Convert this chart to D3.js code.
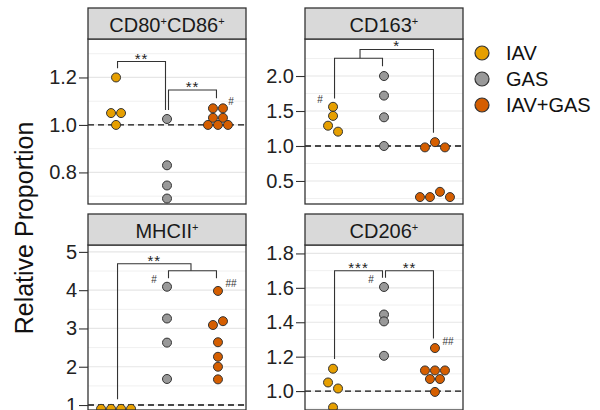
<!DOCTYPE html>
<html>
<head>
<meta charset="utf-8">
<script src="https://cdn.jsdelivr.net/npm/d3@7"></script>
<style>
  body { margin: 0; background: #fff; }
  svg { font-family: "Liberation Sans", Arial, sans-serif; }
</style>
</head>
<body>
<div id="chart"></div>
<script>
// groups shown in every panel
const groups = ["IAV", "GAS", "IAV+GAS"];
const groupColors = ["#E69F00", "#999999", "#D55E00"];

// strip titles, every marker gets a superscript +
const panelMarkers = [["CD80", "CD86"], ["CD163"], ["MHCII"], ["CD206"]];

// relative proportions
const cd80IAV = [1.20, 1.05, 1.05, 1.00];
const cd80GAS = [1.025, 0.83, 0.745, 0.69];
const cd80Combo = [1.07, 1.07, 1.03, 1.03, 1.0, 1.0, 1.0];

const cd163IAV = [1.56, 1.43, 1.29, 1.205];
const cd163GAS = [2.0, 1.72, 1.41, 1.0];
const cd163Combo = [0.98, 1.055, 0.98, 0.27, 0.27, 0.345, 0.27];

const mhcIAV = [0.9, 0.9, 0.9, 0.9];
const mhcGAS = [4.09, 3.26, 2.63, 1.68];
const mhcCombo = [3.98, 3.09, 3.19, 2.64, 2.26, 2.0, 1.67];

const cd206IAV = [1.13, 1.05, 1.015, 0.905];
const cd206GAS = [1.605, 1.445, 1.405, 1.205];
const cd206Combo = [1.25, 1.12, 1.12, 1.12, 1.07, 1.07, 0.995];

const panelValues = [
    [cd80IAV, cd80GAS, cd80Combo],
    [cd163IAV, cd163GAS, cd163Combo],
    [mhcIAV, mhcGAS, mhcCombo],
    [cd206IAV, cd206GAS, cd206Combo]
];

// y range and tick labels of each panel
const panelDomains = [[0.667, 1.362], [0.171, 2.529], [0.87, 5.18], [0.89, 1.849]];
const panelTicks = [[0.8, 1.0, 1.2], [0.5, 1.0, 1.5, 2.0], [1, 2, 3, 4, 5], [1.0, 1.2, 1.4, 1.6, 1.8]];
const tickFormats = [".1f", ".1f", "d", ".1f"];

// significance brackets (heights in data units)
const cd80Brackets = [
    {from: ["IAV"], to: ["GAS"], top: 1.267, left: 1.239, right: 1.063, label: "**"},
    {from: ["GAS"], to: ["IAV+GAS"], top: 1.147, left: 1.063, right: 1.112, label: "**"}
];
const cd163Brackets = [
    {from: ["IAV"], to: ["GAS"], top: 2.253, left: 1.68, right: 2.14, label: ""},
    {from: ["IAV", "GAS"], to: ["IAV+GAS"], top: 2.38, left: 2.253, right: 1.19, label: "*"}
];
const mhcBrackets = [
    {from: ["GAS"], to: ["IAV+GAS"], top: 4.507, left: 4.31, right: 4.31, label: ""},
    {from: ["IAV"], to: ["GAS", "IAV+GAS"], top: 4.69, left: 1.15, right: 4.507, label: "**"}
];
const cd206Brackets = [
    {from: ["IAV"], to: ["GAS"], top: 1.699, left: 1.186, right: 1.659, label: "***"},
    {from: ["GAS"], to: ["IAV+GAS"], top: 1.699, left: 1.659, right: 1.306, label: "**"}
];
const panelBrackets = [cd80Brackets, cd163Brackets, mhcBrackets, cd206Brackets];

// # marks next to the top point of a group
const panelHashes = [
    [{group: "IAV+GAS", label: "#", side: 1}],
    [{group: "IAV", label: "#", side: -1}],
    [{group: "GAS", label: "#", side: -1}, {group: "IAV+GAS", label: "##", side: 1}],
    [{group: "GAS", label: "#", side: -1}, {group: "IAV+GAS", label: "##", side: 1}]
];

const width = 600;
const height = 410;

// panel layout
const colLeft = [88, 305];
const rowTop = [8, 214];
const panelW = 158;
const stripH = 31;
const bodyH = 165;
const r = 4.5;

var svg = d3.select("#chart")
    .append("svg")
    .attr("width", width)
    .attr("height", height);

// spread points with (almost) equal values side by side
function swarm(values, y, xc, spacing) {
    var pts = values.map(function(v, i) { return {v: v, i: i, py: y(v)}; });
    var sorted = pts.slice().sort(function(a, b) { return a.v - b.v; });
    var rows = [];
    var cur = null;
    sorted.forEach(function(p) {
        if (cur && Math.abs(p.py - cur[0].py) < 6.5) cur.push(p);
        else { cur = [p]; rows.push(cur); }
    });
    rows.forEach(function(row) {
        row.sort(function(a, b) { return a.i - b.i; });
        row.forEach(function(p, k) { p.px = xc + (k - (row.length - 1) / 2) * spacing; });
    });
    return pts;
}

function drawPanel(idx) {
    var left = colLeft[idx % 2];
    var top = rowTop[Math.floor(idx / 2)];
    var bodyTop = top + stripH;
    var bodyBottom = bodyTop + bodyH;

    var x = d3.scalePoint()
        .domain(groups)
        .range([left, left + panelW])
        .padding(0.55);

    var y = d3.scaleLinear()
        .domain(panelDomains[idx])
        .range([bodyBottom, bodyTop]);

    var g = svg.append("g");

    // panel background
    g.append("rect")
        .attr("x", left).attr("y", bodyTop)
        .attr("width", panelW).attr("height", bodyH)
        .attr("fill", "#fff");

    // grid lines, major at ticks and minor half way
    var ticks = panelTicks[idx];
    var step = ticks[1] - ticks[0];
    var dom = panelDomains[idx];
    var minor = d3.range(ticks[0] - step / 2, dom[1], step).filter(function(d) { return d > dom[0]; });

    g.selectAll(".minor")
        .data(minor)
        .enter().append("line")
        .attr("x1", left).attr("x2", left + panelW)
        .attr("y1", function(d) { return y(d); })
        .attr("y2", function(d) { return y(d); })
        .attr("stroke", "#f0f0f0")
        .attr("stroke-width", 1);

    g.selectAll(".major")
        .data(ticks)
        .enter().append("line")
        .attr("x1", left).attr("x2", left + panelW)
        .attr("y1", function(d) { return y(d); })
        .attr("y2", function(d) { return y(d); })
        .attr("stroke", "#e6e6e6")
        .attr("stroke-width", 1.2);

    // reference line at 1
    g.append("line")
        .attr("x1", left).attr("x2", left + panelW)
        .attr("y1", y(1)).attr("y2", y(1))
        .attr("stroke", "#111")
        .attr("stroke-width", 1.3)
        .attr("stroke-dasharray", "6,4");

    // brackets
    var xOf = function(list) { return d3.mean(list, function(k) { return x(k); }); };
    panelBrackets[idx].forEach(function(b) {
        var x1 = xOf(b.from) + 1.5;
        var x2 = xOf(b.to) - 1.5;
        g.append("path")
            .attr("d", "M" + x1 + "," + y(b.left) + "V" + y(b.top) + "H" + x2 + "V" + y(b.right))
            .attr("fill", "none")
            .attr("stroke", "#333")
            .attr("stroke-width", 1.1);
        if (b.label) {
            g.append("text")
                .attr("x", (x1 + x2) / 2)
                .attr("y", y(b.top) + 2)
                .attr("text-anchor", "middle")
                .attr("font-size", 15)
                .attr("letter-spacing", 1)
                .attr("fill", "#222")
                .text(b.label);
        }
    });

    // points
    groups.forEach(function(grp, gi) {
        var pts = swarm(panelValues[idx][gi], y, x(grp), 10);
        g.selectAll(".pt" + gi)
            .data(pts)
            .enter().append("circle")
            .attr("cx", function(d) { return d.px; })
            .attr("cy", function(d) { return d.py; })
            .attr("r", r)
            .attr("fill", groupColors[gi])
            .attr("stroke", "#333")
            .attr("stroke-width", 1);
    });

    // # marks
    panelHashes[idx].forEach(function(h) {
        var gi = groups.indexOf(h.group);
        var topVal = d3.max(panelValues[idx][gi]);
        g.append("text")
            .attr("x", x(h.group) + h.side * 13)
            .attr("y", y(topVal) - 3.5)
            .attr("text-anchor", "middle")
            .attr("font-size", 10)
            .attr("fill", "#333")
            .text(h.label);
    });

    // panel border
    g.append("rect")
        .attr("x", left).attr("y", bodyTop)
        .attr("width", panelW).attr("height", bodyH)
        .attr("fill", "none")
        .attr("stroke", "#333")
        .attr("stroke-width", 1.3);

    // strip with title
    g.append("rect")
        .attr("x", left).attr("y", top)
        .attr("width", panelW).attr("height", stripH)
        .attr("fill", "#d9d9d9")
        .attr("stroke", "#333")
        .attr("stroke-width", 1.3);

    var title = g.append("text")
        .attr("x", left + panelW / 2)
        .attr("y", top + 23.5)
        .attr("text-anchor", "middle")
        .attr("font-size", 20)
        .attr("fill", "#1a1a1a");
    panelMarkers[idx].forEach(function(m) {
        title.append("tspan").attr("dy", 0).text(m);
        title.append("tspan").attr("dy", -7).attr("font-size", 11).text("+");
        title.append("tspan").attr("dy", 7).attr("font-size", 1).text("\u200a");
    });

    // y axis
    var axis = g.append("g")
        .attr("transform", "translate(" + left + ",0)")
        .call(d3.axisLeft(y).tickValues(ticks).tickFormat(d3.format(tickFormats[idx])).tickSize(9).tickPadding(2));
    axis.select(".domain").remove();
    axis.selectAll("line").attr("stroke", "#333").attr("stroke-width", 1.1);
    axis.selectAll("text")
        .attr("font-size", 20)
        .attr("font-family", "Liberation Sans, Arial, sans-serif")
        .attr("fill", "#222");
}

d3.range(4).forEach(drawPanel);

// y axis title
svg.append("text")
    .attr("transform", "translate(33,228) rotate(-90)")
    .attr("text-anchor", "middle")
    .attr("font-size", 25)
    .attr("fill", "#111")
    .text("Relative Proportion");

// legend
var legend = svg.append("g");
groups.forEach(function(grp, i) {
    var ly = 53 + i * 26;
    legend.append("circle")
        .attr("cx", 482).attr("cy", ly)
        .attr("r", 7)
        .attr("fill", groupColors[i])
        .attr("stroke", "#333")
        .attr("stroke-width", 1.2);
    legend.append("text")
        .attr("x", 506).attr("y", ly)
        .attr("dy", "0.36em")
        .attr("font-size", 20)
        .attr("fill", "#111")
        .text(grp);
});
</script>
</body>
</html>
